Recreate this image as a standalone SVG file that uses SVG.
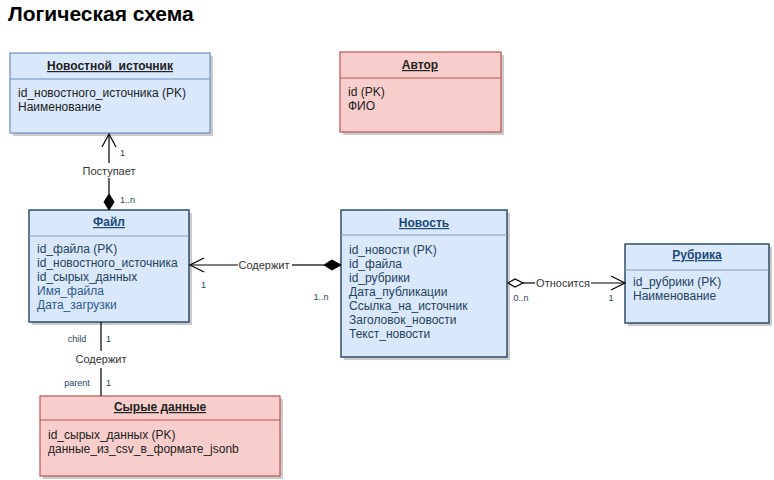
<svg xmlns="http://www.w3.org/2000/svg" width="774" height="480" viewBox="0 0 774 480">
<style>
text{font-family:"Liberation Sans",Arial,sans-serif;}
.title{font-size:21px;font-weight:bold;fill:#000;}
.shadow{fill:#a8a8a8;opacity:0.6;}
.blue{fill:#dae8fc;stroke:#6c8ebf;stroke-width:1.2;}
.blued{fill:#dae8fc;stroke:#23445d;stroke-width:1.4;}
.red{fill:#f8cecc;stroke:#b85450;stroke-width:1.2;}
.sepb{stroke:#6c8ebf;stroke-width:1;}
.sepd{stroke:#8a9bb0;stroke-width:1;}
.sepr{stroke:#b85450;stroke-width:1;}
.hdr{font-size:12px;font-weight:bold;text-decoration:underline;text-anchor:middle;fill:#222;}
.hdrd{font-size:12px;font-weight:bold;text-decoration:underline;text-anchor:middle;fill:#1c4a7a;}
.attr{font-size:12px;fill:#222;}
.attrd{font-size:12px;fill:#23445d;}
.attrb{font-size:12px;fill:#2a5b8f;}
.line{stroke:#000;stroke-width:1.2;fill:none;}
.lbl{font-size:11px;fill:#333;text-anchor:middle;}
.sm{font-size:9px;fill:#23445d;}
.smm{font-size:9px;fill:#23445d;text-anchor:middle;}
</style>
<rect width="774" height="480" fill="#fff"/>
<text class="title" x="8" y="21">Логическая схема</text>

<g id="node-source">
<rect class="shadow" x="13" y="56" width="200" height="80"/>
<rect class="blue" x="10" y="53" width="200" height="80"/>
<line class="sepb" x1="10" y1="79" x2="210" y2="79"/>
<text class="hdr" x="110" y="70">Новостной&#160; источник</text>
<text class="attr" x="18" y="97">id_новостного_источника (PK)</text>
<text class="attr" x="18" y="111">Наименование</text>
</g>

<g id="node-author">
<rect class="shadow" x="343" y="55" width="161" height="80"/>
<rect class="red" x="340" y="52" width="161" height="80"/>
<line class="sepr" x1="340" y1="78" x2="501" y2="78"/>
<text class="hdr" x="420" y="69">Автор</text>
<text class="attr" x="348" y="96">id (PK)</text>
<text class="attr" x="348" y="110">ФИО</text>
</g>

<g id="node-file">
<rect class="shadow" x="32" y="213" width="160" height="112"/>
<rect class="blued" x="29" y="210" width="160" height="112"/>
<line class="sepd" x1="29" y1="236" x2="189" y2="236"/>
<text class="hdrd" x="109" y="226">Файл</text>
<text class="attrd" x="37" y="253">id_файла (PK)</text>
<text class="attrd" x="37" y="267">id_новостного_источника</text>
<text class="attrd" x="37" y="281">id_сырых_данных</text>
<text class="attrb" x="37" y="295">Имя_файла</text>
<text class="attrb" x="37" y="309">Дата_загрузки</text>
</g>

<g id="node-news">
<rect class="shadow" x="344" y="213" width="166" height="147"/>
<rect class="blued" x="341" y="210" width="166" height="147"/>
<line class="sepd" x1="341" y1="235" x2="507" y2="235"/>
<text class="hdrd" x="424" y="227">Новость</text>
<text class="attrd" x="349" y="254">id_новости (PK)</text>
<text class="attrd" x="349" y="268">id_файла</text>
<text class="attrd" x="349" y="282">id_рубрики</text>
<text class="attrd" x="349" y="296">Дата_публикации</text>
<text class="attrd" x="349" y="310">Ссылка_на_источник</text>
<text class="attrd" x="349" y="324">Заголовок_новости</text>
<text class="attrd" x="349" y="338">Текст_новости</text>
</g>

<g id="node-rubric">
<rect class="shadow" x="628" y="247" width="144" height="79"/>
<rect class="blued" x="625" y="244" width="144" height="79"/>
<line class="sepd" x1="625" y1="270" x2="769" y2="270"/>
<text class="hdrd" x="697" y="259">Рубрика</text>
<text class="attrd" x="633" y="286">id_рубрики (PK)</text>
<text class="attrd" x="633" y="300">Наименование</text>
</g>

<g id="node-raw">
<rect class="shadow" x="43" y="399" width="240" height="80"/>
<rect class="red" x="40" y="396" width="240" height="80"/>
<line class="sepr" x1="40" y1="420" x2="280" y2="420"/>
<text class="hdr" x="160" y="411">Сырые данные</text>
<text class="attr" x="48" y="439">id_сырых_данных (PK)</text>
<text class="attr" x="48" y="453">данные_из_csv_в_формате_jsonb</text>
</g>

<g id="connectors">
<!-- Поступает -->
<line class="line" x1="109" y1="134" x2="109" y2="163"/>
<line class="line" x1="109" y1="178" x2="109" y2="194"/>
<polyline class="line" points="102,147 109,134 116,147"/>
<polygon points="109,194 114,202 109,210 104,202" fill="#000" stroke="#000"/>
<text class="sm" x="120" y="156">1</text>
<text class="lbl" x="109" y="175">Поступает</text>
<text class="sm" x="120" y="203">1..n</text>

<!-- Содержит horizontal -->
<line class="line" x1="190" y1="265" x2="238" y2="265"/>
<line class="line" x1="292" y1="265" x2="324" y2="265"/>
<polyline class="line" points="204,258 190,265 204,272"/>
<polygon points="324,265 332,260 341,265 332,270" fill="#000" stroke="#000"/>
<text class="lbl" x="264" y="269">Содержит</text>
<text class="sm" x="201" y="288">1</text>
<text class="smm" x="321" y="300">1..n</text>

<!-- Относится -->
<line class="line" x1="523" y1="283" x2="535" y2="283"/>
<line class="line" x1="591" y1="283" x2="624" y2="283"/>
<polygon points="508,283 515,279 523,283 515,287" fill="#fff" stroke="#000" stroke-width="1.2"/>
<polyline class="line" points="611,276 625,283 611,290"/>
<text class="lbl" x="563" y="287">Относится</text>
<text class="smm" x="521" y="301">0..n</text>
<text class="smm" x="611" y="301">1</text>

<!-- Содержит vertical -->
<line class="line" x1="101" y1="322" x2="101" y2="351"/>
<line class="line" x1="101" y1="368" x2="101" y2="396"/>
<text class="lbl" x="101" y="363">Содержит</text>
<text class="smm" x="77" y="342">child</text>
<text class="sm" x="106" y="342">1</text>
<text class="smm" x="77" y="386">parent</text>
<text class="sm" x="106" y="386">1</text>
</g>
</svg>
